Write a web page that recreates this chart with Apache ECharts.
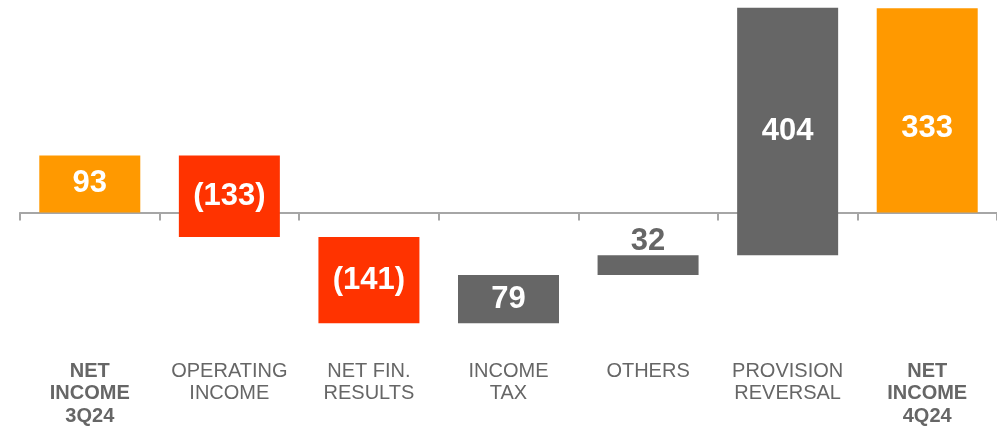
<!DOCTYPE html>
<html>
<head>
<meta charset="utf-8">
<script src="https://cdn.jsdelivr.net/npm/echarts@6/dist/echarts.min.js"></script>
<style>
  html, body { margin: 0; padding: 0; background: #fff; }
  #chart { width: 997px; height: 427px; }
</style>
</head>
<body>
<div id="chart"></div>
<script>
// Net income bridge, 3Q24 to 4Q24
const categories = [
  'NET\nINCOME\n3Q24',
  'OPERATING\nINCOME',
  'NET FIN.\nRESULTS',
  'INCOME\nTAX',
  'OTHERS',
  'PROVISION\nREVERSAL',
  'NET\nINCOME\n4Q24'
];
const values = [93, -133, -141, 79, 32, 404, 333];
// 'total' bars start at zero, 'delta' bars start where the previous bar ended
const kinds = ['total', 'delta', 'delta', 'delta', 'delta', 'delta', 'total'];

const ORANGE = '#FF9900';
const RED = '#FF3300';
const GRAY = '#666666';
const FONT = 'Liberation Sans, Arial, sans-serif';

// running start point of each bar
const bases = [];
let running = 0;
values.forEach((v, i) => {
  if (kinds[i] === 'total') {
    bases.push(0);
    running = v;
  } else {
    bases.push(running);
    running += v;
  }
});

function fmt(v) {
  return v < 0 ? '(' + Math.abs(v) + ')' : String(v);
}

const barData = values.map((v, i) => {
  const color = kinds[i] === 'total' ? ORANGE : (v < 0 ? RED : GRAY);
  const item = { value: v, itemStyle: { color: color } };
  if (Math.abs(v) < 50 && kinds[i] === 'delta') {
    // a short bar carries its label above it
    item.label = { position: 'top', color: GRAY, distance: -2 };
  } else if (i === values.length - 1) {
    // closing total: label sits level with the provision label
    item.label = { offset: [0, 18] };
  }
  return item;
});

const chart = echarts.init(document.getElementById('chart'));
chart.setOption({
  animation: false,
  grid: {
    left: 20, right: 0, top: 4, bottom: 92,
    containLabel: false,
    outerBoundsMode: 'none'
  },
  xAxis: [
    {
      // zero line with category separators
      type: 'category',
      data: categories,
      axisLine: { onZero: true, lineStyle: { color: '#A6A6A6', width: 2 } },
      axisTick: { show: true, length: 8, lineStyle: { color: '#A6A6A6', width: 2 } },
      axisLabel: { show: false }
    },
    {
      // category names under the plot
      type: 'category',
      data: categories,
      position: 'bottom',
      axisLine: { show: false, onZero: false },
      axisTick: { show: false },
      axisLabel: {
        margin: 25,
        color: GRAY,
        fontFamily: FONT,
        fontSize: 20,
        lineHeight: 22.5,
        interval: 0,
        formatter: function (val, idx) {
          if (kinds[idx] === 'total') {
            return val.split('\n').map(l => '{b|' + l + '}').join('\n');
          }
          return val;
        },
        rich: {
          b: {
            fontWeight: 'bold',
            color: GRAY,
            fontFamily: FONT,
            fontSize: 20,
            lineHeight: 22.5
          }
        }
      }
    }
  ],
  yAxis: {
    type: 'value',
    min: -200,
    max: 340,
    show: false,
    splitLine: { show: false }
  },
  series: [
    {
      type: 'bar',
      stack: 'bridge',
      stackStrategy: 'all',
      barWidth: 101,
      silent: true,
      itemStyle: { color: 'transparent' },
      data: bases
    },
    {
      type: 'bar',
      stack: 'bridge',
      stackStrategy: 'all',
      barWidth: 101,
      label: {
        show: true,
        position: 'inside',
        color: '#FFFFFF',
        fontFamily: FONT,
        fontWeight: 'bold',
        fontSize: 31,
        formatter: p => fmt(p.value)
      },
      data: barData
    }
  ]
});
</script>
</body>
</html>
